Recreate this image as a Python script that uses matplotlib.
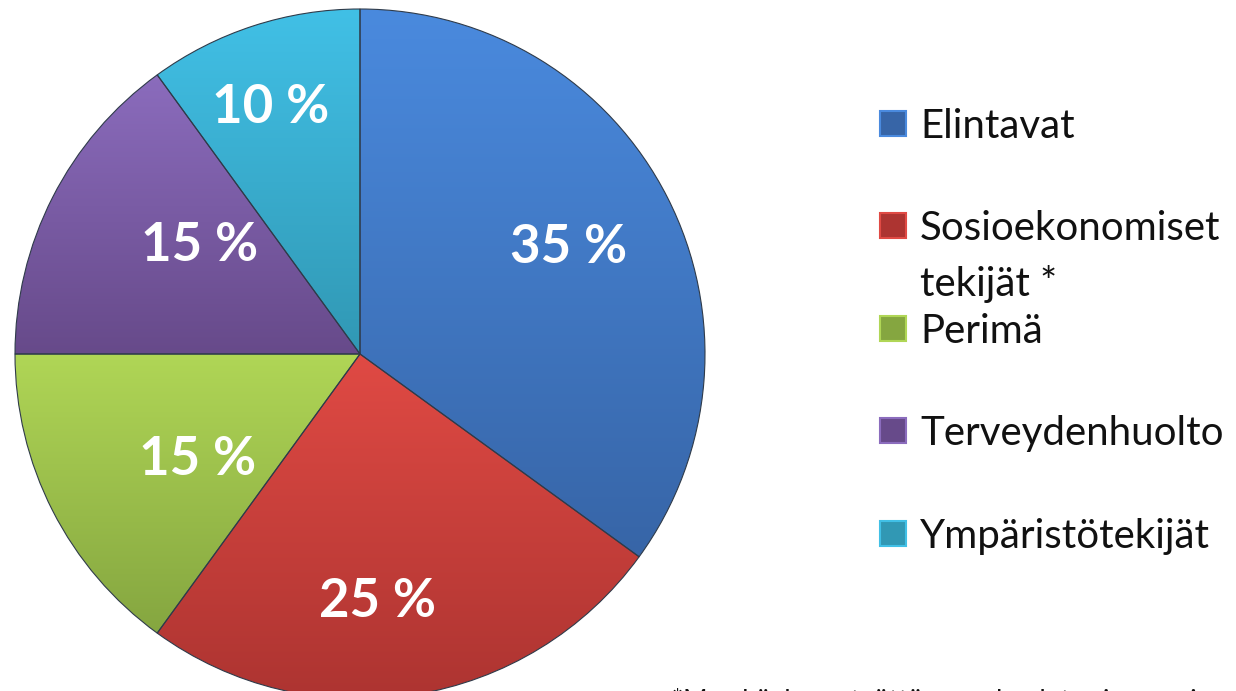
import numpy as np
import matplotlib
matplotlib.use('Agg')
import matplotlib.pyplot as plt
from matplotlib.colors import LinearSegmentedColormap
from matplotlib.patches import Rectangle

plt.rcParams['font.family'] = ['Lato', 'DejaVu Sans']

# Terveyteen vaikuttavat tekijät
categories = ['Elintavat', 'Sosioekonomiset\ntekijät *', 'Perimä',
              'Terveydenhuolto', 'Ympäristötekijät']
values = [35, 25, 15, 15, 10]
pct_labels = ['35 %', '25 %', '15 %', '15 %', '10 %']
footnote = '*Mm. köyhyys, työttömyys, koulutus ja asuminen'

# väri ylhäältä ja alhaalta (liukuväri)
top_colors = ['#4a8ade', '#e04a44', '#b0d656', '#8b6cbd', '#41c0e6']
bottom_colors = ['#3765a7', '#ad3431', '#85a640', '#674a8a', '#3198b4']
# tekstien paikka: etäisyys keskeltä ja kulman siirto (astetta)
label_dist = [0.68, 0.72, 0.56, 0.56, 0.76]
label_shift = [0, -5, 6, -7, 2]

W, H = 1236, 691
fig = plt.figure(figsize=(W / 100, H / 100), dpi=100)
fig.patch.set_facecolor('white')

cx, cy, r = 360, H - 354, 345
ax = fig.add_axes([(cx - r) / W, (cy - r) / H, 2 * r / W, 2 * r / H])

wedges, _ = ax.pie(values, startangle=90, counterclock=False, radius=1,
                   colors=top_colors,
                   wedgeprops=dict(edgecolor='#2f3b4a', linewidth=0.8))

for i, w in enumerate(wedges):
    ext = w.get_path().get_extents(w.get_transform() - ax.transData)
    cmap = LinearSegmentedColormap.from_list('g%d' % i, [bottom_colors[i], top_colors[i]])
    grad = np.linspace(0, 1, 256).reshape(-1, 1)
    im = ax.imshow(grad, cmap=cmap, origin='lower', aspect='auto',
                   extent=[ext.x0, ext.x1, ext.y0, ext.y1], zorder=w.get_zorder() + 0.1)
    im.set_clip_path(w)
    ang = np.deg2rad((w.theta1 + w.theta2) / 2 + label_shift[i])
    ax.text(label_dist[i] * np.cos(ang), label_dist[i] * np.sin(ang), pct_labels[i],
            color='white', fontsize=38, fontweight='bold', ha='center', va='center',
            zorder=5)

# reunaviivat kuvan päälle
for w in wedges:
    w.set_facecolor('none')
    w.set_zorder(4)

ax.set_xlim(-1, 1)
ax.set_ylim(-1, 1)
ax.set_aspect('equal')
ax.axis('off')

# selite
lx, ly0, step = 880, 123, 102.5
for i, (lab, col) in enumerate(zip(categories, top_colors)):
    y = H - (ly0 + i * step)
    fig.patches.append(Rectangle(((lx) / W, (y - 12.5) / H), 26 / W, 25 / H,
                                 transform=fig.transFigure, facecolor=bottom_colors[i],
                                 edgecolor=col, linewidth=1.5))
    lines = lab.split('\n')
    for j, line in enumerate(lines):
        fig.text(920 / W, (y - j * 55) / H, line, fontsize=29, color='#111111',
                 ha='left', va='center_baseline')

fig.text(672 / W, 3 / H, footnote, fontsize=19, color='#111111', ha='left', va='top')

fig.savefig('out.png', dpi=100, facecolor='white')
